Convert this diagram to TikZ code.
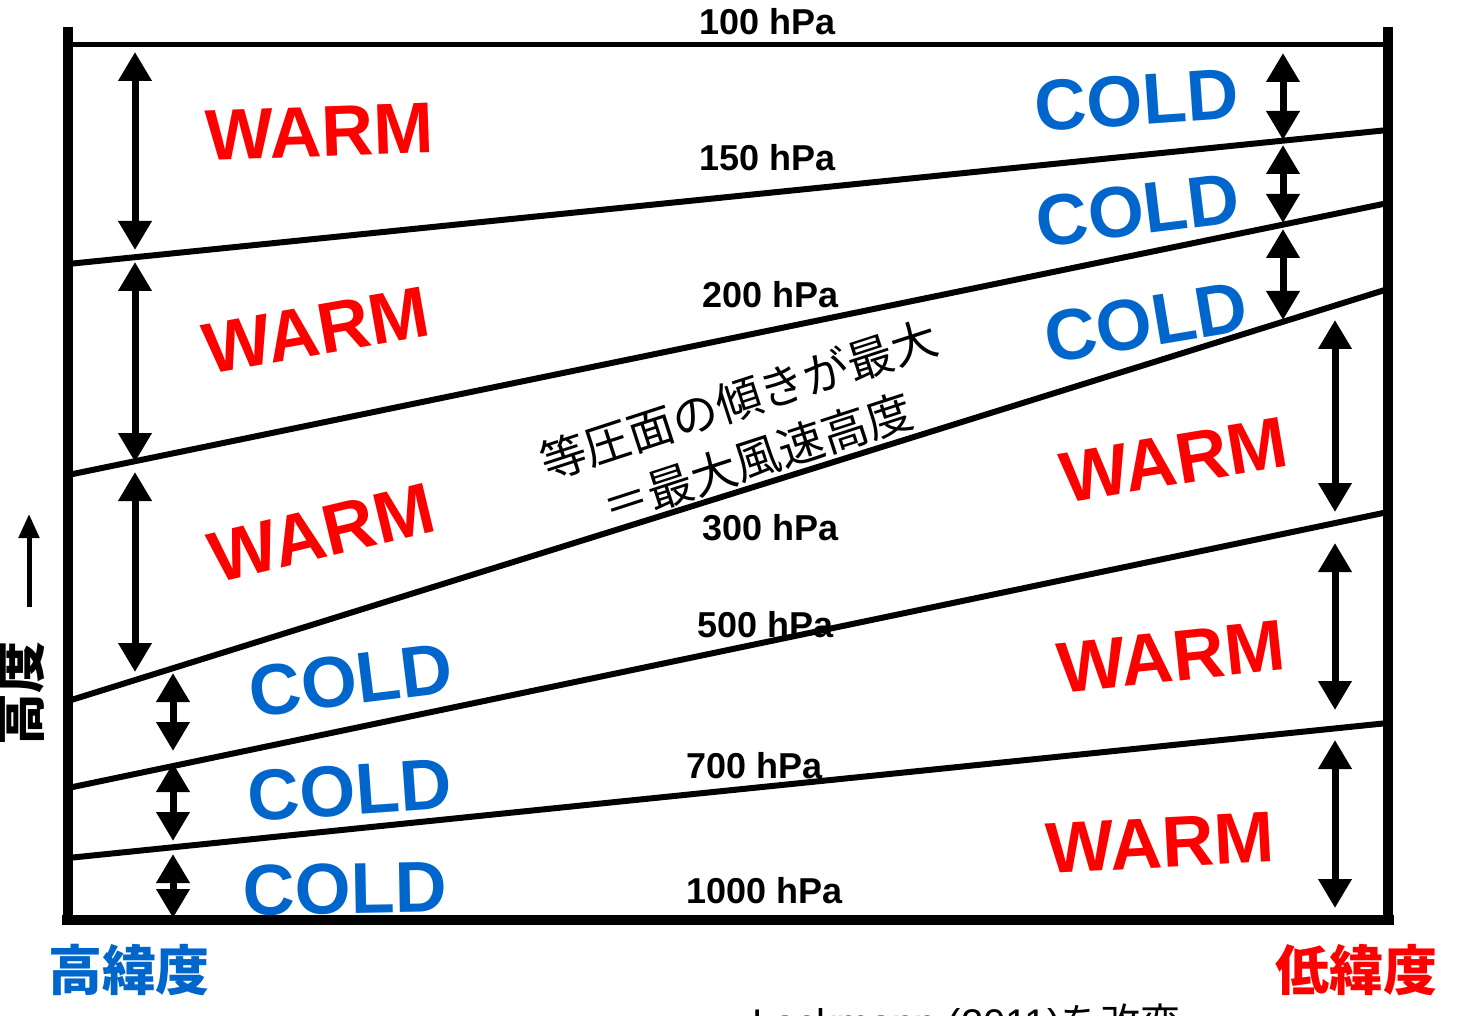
\documentclass[tikz,border=0pt]{standalone}
\usepackage{fontspec}
\setmainfont{Liberation Sans}
\newfontfamily\jpfont{Noto Sans CJK JP}
\usetikzlibrary{arrows.meta}
\definecolor{warmred}{HTML}{FF0000}
\definecolor{coldblue}{HTML}{0066CC}

\begin{document}
\begin{tikzpicture}[x=1pt, y=-1pt,
  isobar/.style={line width=6pt},
  thick arr/.style={line width=7pt,
    {Triangle[width=32pt,length=29pt]}-{Triangle[width=32pt,length=29pt]}},
  word/.style={inner sep=0pt, font=\fontsize{72}{72}\selectfont\bfseries},
  warm/.style={word, text=warmred},
  cold/.style={word, text=coldblue},
  plev/.style={inner sep=0pt, font=\fontsize{36}{36}\selectfont\bfseries}]
\useasboundingbox (0,0) rectangle (1460,1016);

% isobaric surfaces
\coordinate (p150L) at (68,264);  \coordinate (p150R) at (1388,130);
\coordinate (p200L) at (68,475);  \coordinate (p200R) at (1388,203);
\coordinate (p300L) at (68,701);  \coordinate (p300R) at (1388,289);
\coordinate (p500L) at (68,788);  \coordinate (p500R) at (1388,512);
\coordinate (p700L) at (68,858);  \coordinate (p700R) at (1388,723);
\draw[line width=5pt] (68,45) -- (1388,45);
\foreach \p in {150,200,300,500,700} {
  \draw[isobar] (p\p L) -- (p\p R);
}

% frame
\draw[line width=10pt] (68,27) -- (68,920) -- (1388,920) -- (1388,27);
\draw[line width=10pt] (62,920) -- (1394,920);

% pressure labels
\node[plev] (hPa100)  at (768,22)  {100 hPa};
\node[plev] (hPa150)  at (768,158) {150 hPa};
\node[plev] (hPa200)  at (771,295) {200 hPa};
\node[plev] (hPa300)  at (771,528) {300 hPa};
\node[plev] (hPa500)  at (766,625) {500 hPa};
\node[plev] (hPa700)  at (755,766) {700 hPa};
\node[plev] (hPa1000) at (765,891) {1000 hPa};

% thickness arrows, high latitude side
\foreach \ya/\yb in {52/250, 262/462, 472/672} {
  \draw[thick arr] (135,\ya) -- (135,\yb);
}
\foreach \ya/\yb in {673/751, 763/841, 854/918} {
  \draw[thick arr] (173,\ya) -- (173,\yb);
}

% thickness arrows, low latitude side
\foreach \ya/\yb in {53/140, 145/223, 229/320} {
  \draw[thick arr] (1283,\ya) -- (1283,\yb);
}
\foreach \ya/\yb in {320/512, 543/710, 740/908} {
  \draw[thick arr] (1335,\ya) -- (1335,\yb);
}

% temperature words
\node[warm, rotate=2]    (warmA) at (320,132)  {WARM};
\node[warm, rotate=10]   (warmB) at (316,330)  {WARM};
\node[warm, rotate=13.5] (warmC) at (322,533)  {WARM};
\node[cold, rotate=7]    (coldA) at (351,680)  {COLD};
\node[cold, rotate=4]    (coldB) at (350,790)  {COLD};
\node[cold, rotate=1]    (coldC) at (345,889)  {COLD};
\node[cold, rotate=4]    (coldD) at (1137,100) {COLD};
\node[cold, rotate=7]    (coldE) at (1138,210) {COLD};
\node[cold, rotate=9.5]  (coldF) at (1146,322) {COLD};
\node[warm, rotate=9.5]  (warmD) at (1174,460) {WARM};
\node[warm, rotate=6]    (warmE) at (1171,657) {WARM};
\node[warm, rotate=3]    (warmF) at (1160,843) {WARM};

% jet level note
\node[rotate=18, align=center, inner sep=0pt,
  font=\jpfont\fontsize{46}{61}\selectfont] (jetnote) at (748,429)
  {等圧面の傾きが最大\\＝最大風速高度};

% axis labels
\node[text=coldblue, inner sep=0pt, font=\jpfont\fontsize{54}{54}\selectfont\bfseries]
  (highlat) at (129,970) {高緯度};
\node[text=warmred, inner sep=0pt, font=\jpfont\fontsize{54}{54}\selectfont\bfseries]
  (lowlat) at (1356,970) {低緯度};
\node[rotate=90, inner sep=0pt, font=\jpfont\fontsize{52}{52}\selectfont\bfseries]
  (height) at (20,693) {高度};
\coordinate (upA) at (29,607);
\coordinate (upB) at (29,514);
\draw[line width=5pt, -{Triangle[width=20pt,length=24pt]}] (upA) -- (upB);

% source (cut by the page edge)
\node[anchor=base west, inner sep=0pt, font=\fontsize{40}{40}\selectfont]
  (source) at (752,1037) {Lackmann (2011)\jpfont を改変};
\end{tikzpicture}
\end{document}
